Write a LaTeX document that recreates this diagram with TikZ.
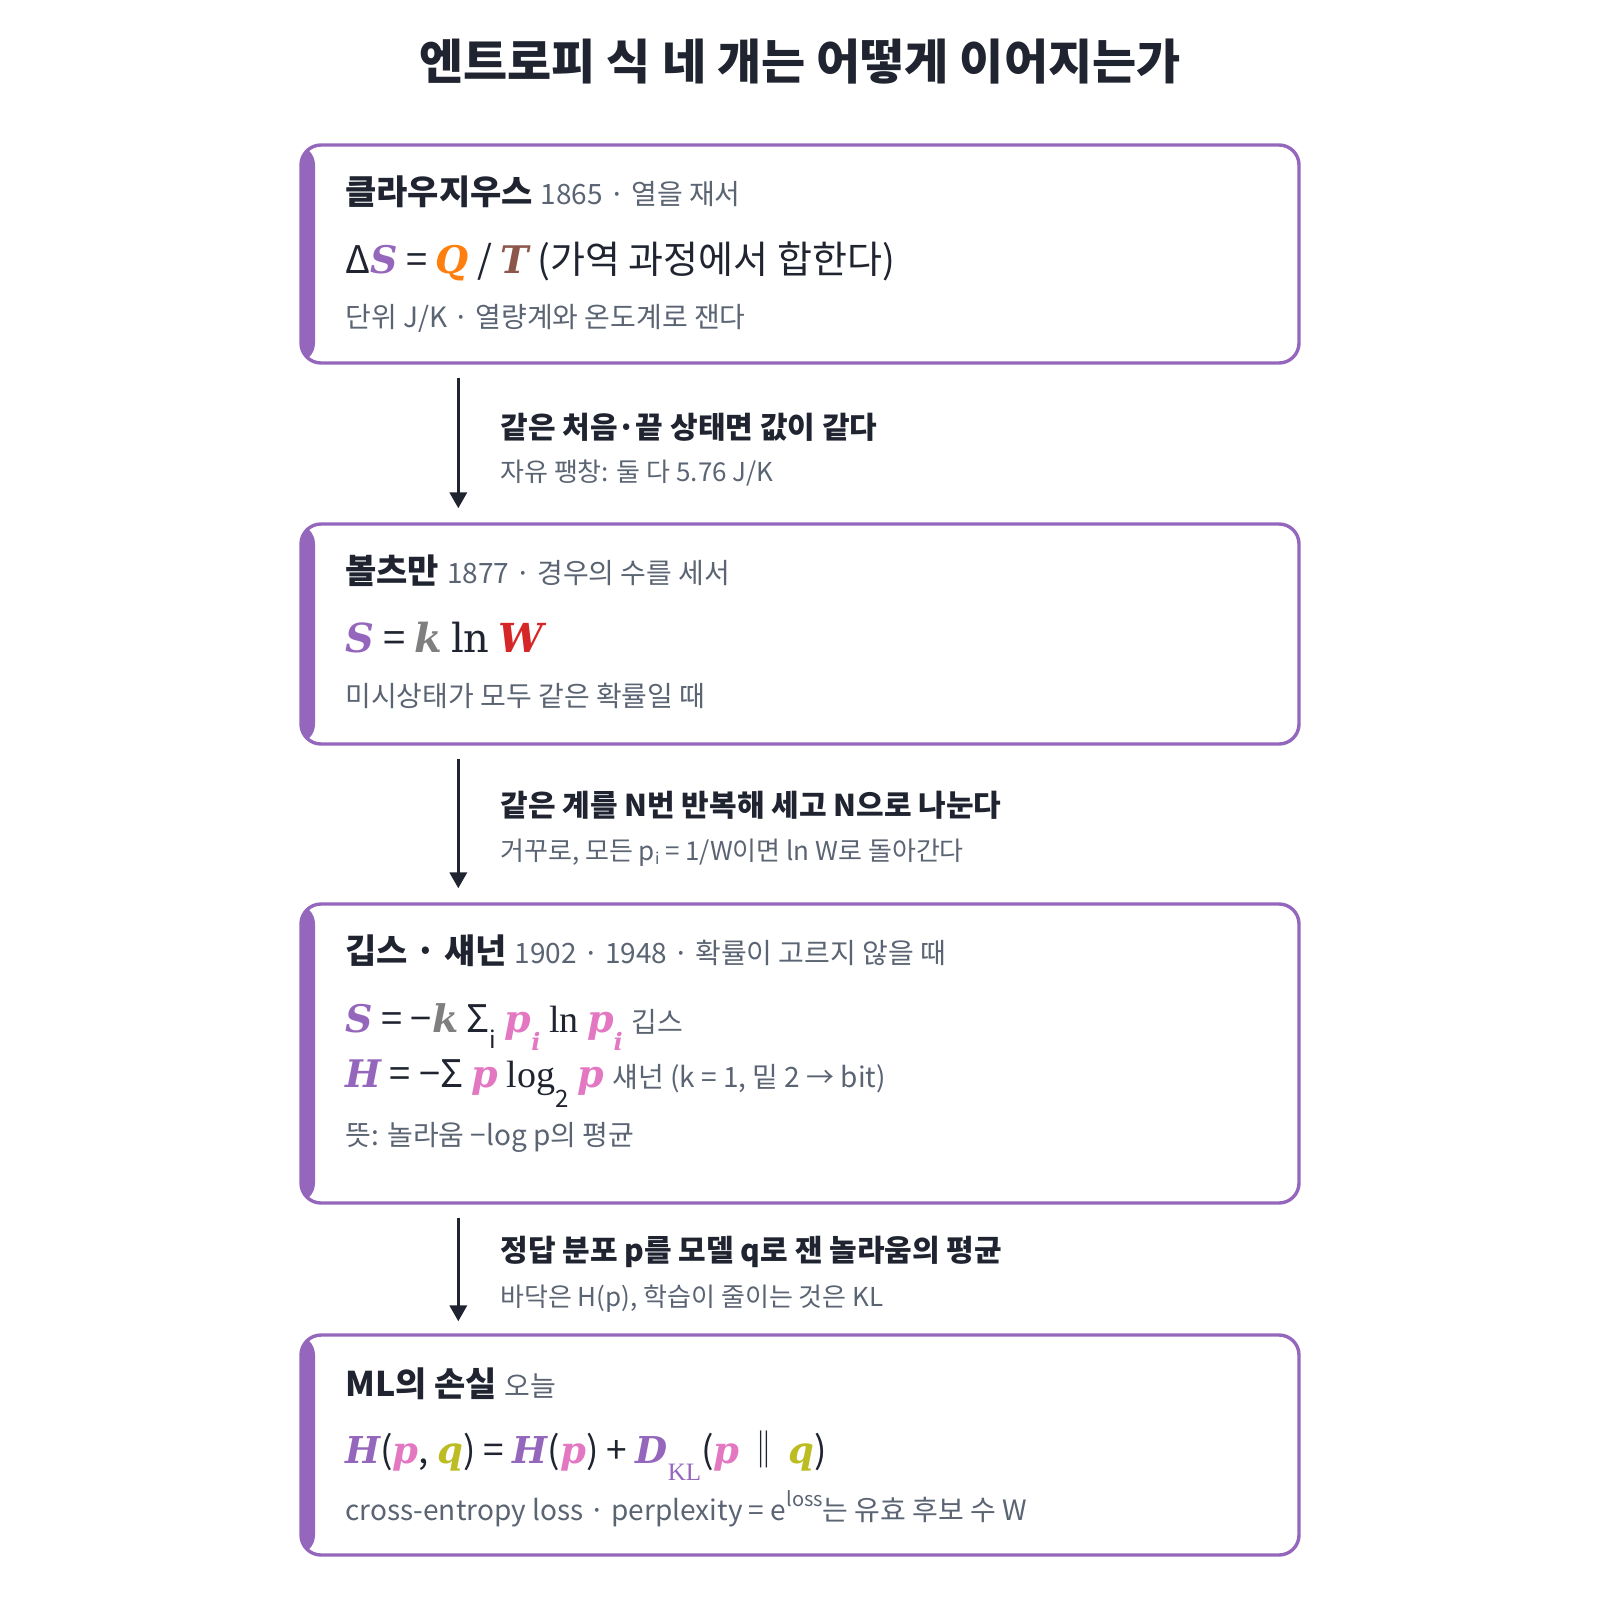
\documentclass[tikz,border=0pt]{standalone}
\usepackage{fontspec}
\setmainfont{Noto Sans CJK KR}
\newfontfamily\serifmath{DejaVu Serif}
\newfontfamily\serifup{Liberation Serif}
\usetikzlibrary{arrows.meta}

\definecolor{accent}{HTML}{9467BD}
\definecolor{heatc}{HTML}{FF7F0E}
\definecolor{tempc}{HTML}{8C564B}
\definecolor{kgray}{HTML}{7F7F7F}
\definecolor{wred}{HTML}{D62728}
\definecolor{ppink}{HTML}{E377C2}
\definecolor{qolive}{HTML}{BCBD22}
\definecolor{ink}{HTML}{1F2430}
\definecolor{muted}{HTML}{5B6473}

% bold italic serif variable, and small lowered index
\newcommand\fv[2]{{\serifmath\bfseries\itshape\color{#1}#2}}
\newcommand\lowr[2]{\raisebox{-#1}{\fontsize{12}{12}\selectfont #2}}

\tikzset{%
    card/.style={draw=accent, line width=1.7pt, rounded corners=10pt,
        minimum width=499pt, inner sep=0pt,
        path picture={\fill[accent] (path picture bounding box.north west)
            rectangle ([xshift=7pt]path picture bounding box.south west);}},
    title/.style={anchor=base, inner sep=0pt, text=ink,
        font=\fontsize{24}{29}\selectfont\bfseries},
    head/.style={anchor=base west, inner sep=0pt, text=ink,
        font=\fontsize{17}{20}\selectfont\bfseries},
    formula/.style={anchor=base west, inner sep=0pt, text=ink,
        font=\fontsize{19}{23}\selectfont},
    note/.style={anchor=base west, inner sep=0pt, text=muted,
        font=\fontsize{14}{17}\selectfont},
    linkhead/.style={anchor=base west, inner sep=0pt, text=ink,
        font=\fontsize{15}{18}\selectfont\bfseries},
    linknote/.style={anchor=base west, inner sep=0pt, text=muted,
        font=\fontsize{13}{16}\selectfont},
    flow/.style={draw=ink, line width=1.8pt, -{Triangle[length=8pt,width=8.5pt]}}
}

\begin{document}
\begin{tikzpicture}[x=0.5pt, y=-0.5pt]
    \useasboundingbox[fill=white] (0,0) rectangle (1600,1600);
    \node[title] (ttl) at (800,80) {엔트로피 식 네 개는 어떻게 이어지는가};

    % four cards
    \node[card, minimum height=109pt] (clausius) at (800,254) {};
    \node[card, minimum height=110pt] (boltzmann) at (800,634) {};
    \node[card, minimum height=149.5pt] (gibbs) at (800,1053.5) {};
    \node[card, minimum height=110pt] (mlloss) at (800,1445) {};

    % Clausius
    \node[head] (clausiushead) at (345,204) {클라우지우스 {\mdseries\fontsize{14}{17}\selectfont\color{muted}1865 · 열을 재서}};
    \node[formula] (clausiuseq) at (345,273) {Δ\fv{accent}{S} = \fv{heatc}{Q} / \fv{tempc}{T} (가역 과정에서 합한다)};
    \node[note] (clausiusnote) at (345,327) {단위 J/K · 열량계와 온도계로 잰다};

    % Boltzmann
    \node[head] (boltzmannhead) at (345,583) {볼츠만 {\mdseries\fontsize{14}{17}\selectfont\color{muted}1877 · 경우의 수를 세서}};
    \node[formula, font=\fontsize{20}{24}\selectfont] (boltzmanneq) at (345,652) {\fv{accent}{S} = \fv{kgray}{k} {\serifmath ln} \fv{wred}{W}};
    \node[note] (boltzmannnote) at (345,706) {미시상태가 모두 같은 확률일 때};

    % Gibbs / Shannon
    \node[head] (gibbshead) at (345,963) {깁스 · 섀넌 {\mdseries\fontsize{14}{17}\selectfont\color{muted}1902 · 1948 · 확률이 고르지 않을 때}};
    \node[formula] (gibbseq) at (345,1032) {\fv{accent}{S} = −\fv{kgray}{k} Σ\lowr{8pt}{i} \fv{ppink}{p}\lowr{9pt}{\fv{ppink}{i}} {\serifup ln} \fv{ppink}{p}\lowr{9pt}{\fv{ppink}{i}} {\fontsize{14}{17}\selectfont\color{muted}깁스}};
    \node[formula] (shannoneq) at (345,1087) {\fv{accent}{H} = −Σ \fv{ppink}{p} {\serifup log}\lowr{10pt}{2} \fv{ppink}{p} {\fontsize{14}{17}\selectfont\color{muted}섀넌 (k = 1, 밑 2 → bit)}};
    \node[note] (gibbsnote) at (345,1145) {뜻: 놀라움 −log p의 평균};

    % ML loss
    \node[head] (mlhead) at (345,1396) {ML의 손실 {\mdseries\fontsize{14}{17}\selectfont\color{muted}오늘}};
    \node[formula, font=\fontsize{18.5}{22}\selectfont] (mleq) at (345,1463) {\fv{accent}{H}(\fv{ppink}{p}, \fv{qolive}{q}) = \fv{accent}{H}(\fv{ppink}{p}) + \fv{accent}{D}\raisebox{-8.5pt}{\fontsize{12.5}{12.5}\selectfont\serifup\color{accent}KL}(\fv{ppink}{p}\hspace{3pt}‖\hspace{3pt}\fv{qolive}{q})};
    \node[note] (mlnote) at (345,1520) {cross-entropy loss · perplexity = e\raisebox{7pt}{\fontsize{10}{10}\selectfont loss}는 유효 후보 수 W};

    % links between cards
    \draw[flow] ([shift={(159,13)}]clausius.south west) -- ([shift={(159,-14)}]boltzmann.north west);
    \draw[flow] ([shift={(159,13)}]boltzmann.south west) -- ([shift={(159,-14)}]gibbs.north west);
    \draw[flow] ([shift={(159,13)}]gibbs.south west) -- ([shift={(159,-12)}]mlloss.north west);

    \node[linkhead] (link1) at (500,438) {같은 처음·끝 상태면 값이 같다};
    \node[linknote] (link1note) at (500,481) {자유 팽창: 둘 다 5.76 J/K};
    \node[linkhead] (link2) at (500,816) {같은 계를 N번 반복해 세고 N으로 나눈다};
    \node[linknote] (link2note) at (500,860) {거꾸로, 모든 p\raisebox{-2pt}{\fontsize{8}{8}\selectfont i} = 1/W이면 ln W로 돌아간다};
    \node[linkhead] (link3) at (500,1261) {정답 분포 p를 모델 q로 잰 놀라움의 평균};
    \node[linknote] (link3note) at (500,1306) {바닥은 H(p), 학습이 줄이는 것은 KL};
\end{tikzpicture}
\end{document}
